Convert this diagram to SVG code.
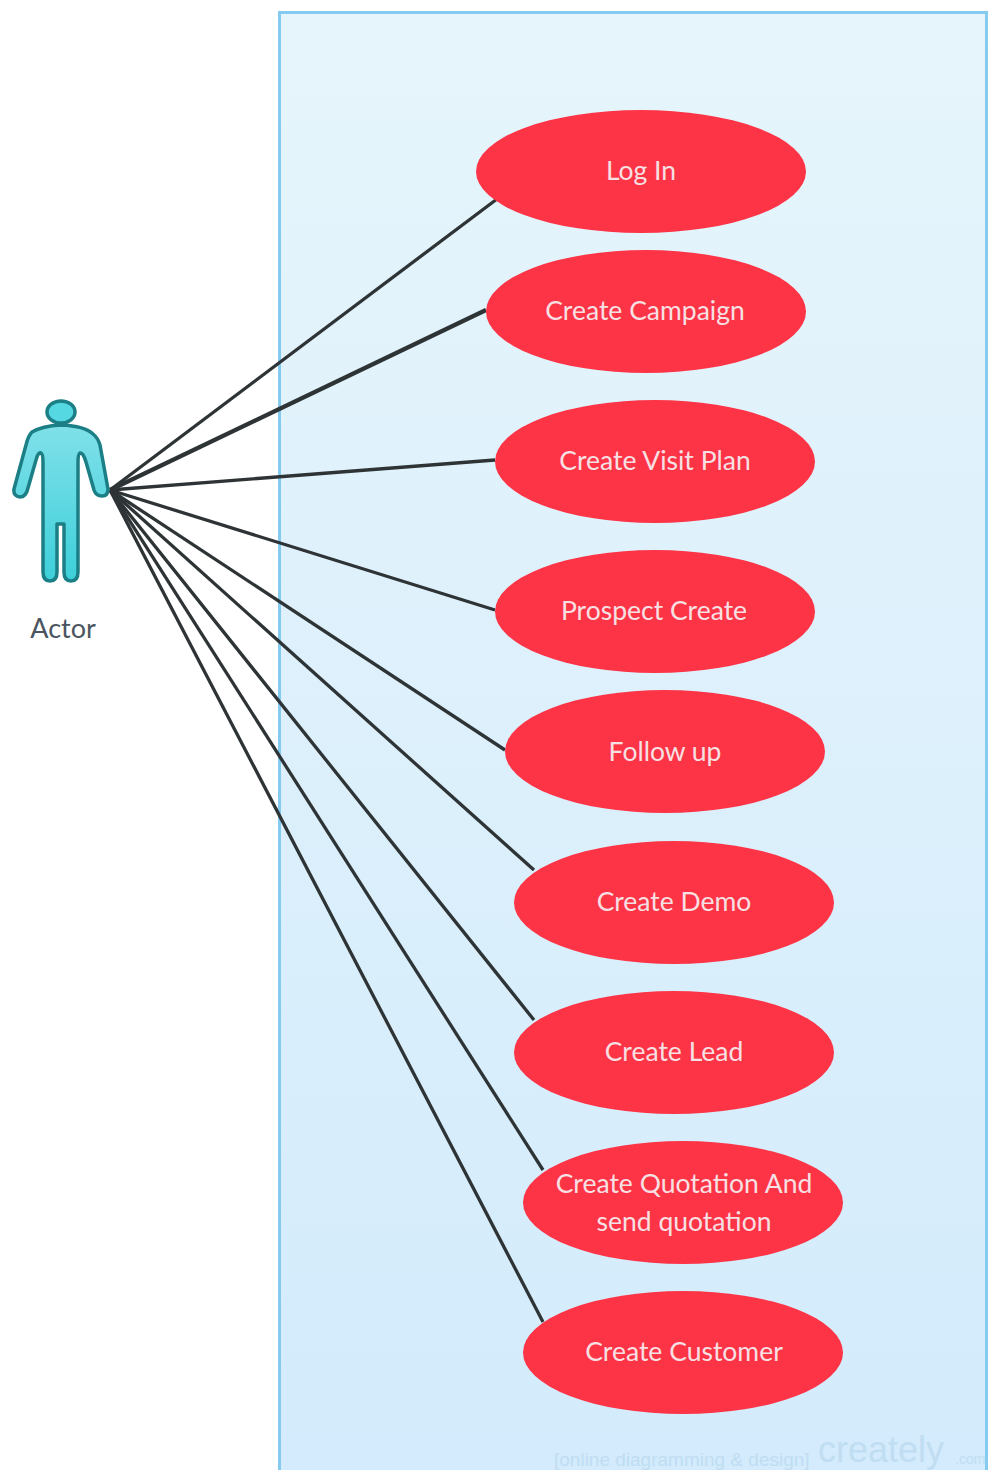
<svg xmlns="http://www.w3.org/2000/svg" width="990" height="1470" viewBox="0 0 990 1470">
<defs>
<linearGradient id="bg" x1="0" y1="0" x2="0" y2="1"><stop offset="0" stop-color="#e6f5fb"/><stop offset="1" stop-color="#d3ebfc"/></linearGradient>
<linearGradient id="act" x1="0" y1="0" x2="0" y2="1"><stop offset="0" stop-color="#80e0e9"/><stop offset="1" stop-color="#3dd0da"/></linearGradient>
</defs>
<style>
.uc{fill:#fd3346}
.t{font-family:Lato,"Liberation Sans",sans-serif;font-size:26.500px;fill:#f7e0e3;text-anchor:middle}
.c{stroke:#2e3436;stroke-width:3.300;fill:none}
.wm{font-family:"Liberation Sans",sans-serif;fill:#c0ddf2}
.a{stroke:#1c7f86;stroke-width:3.500;stroke-linejoin:round}
</style>
<rect width="990" height="1470" fill="#fff"/>
<g id="boundary"><path d="M279.500 1470V12.500H986.500V1470" fill="url(#bg)" stroke="#85cbf0" stroke-width="3"/></g>
<g id="connectors">
<path class="c" d="M110 490L497 199"/>
<path class="c" d="M110 490L486 310" style="stroke-width:4.200"/>
<path class="c" d="M110 490L495 460"/>
<path class="c" d="M110 490L495 610"/>
<path class="c" d="M110 490L505 750"/>
<path class="c" d="M110 490L534 870"/>
<path class="c" d="M110 490L534 1020"/>
<path class="c" d="M110 490L543 1170"/>
<path class="c" d="M110 490L543 1322"/>
</g>
<g id="actor">
<ellipse class="a" cx="61" cy="412" rx="14" ry="11" fill="#55d8e2"/>
<path class="a" d="M61 425Q85 426 93 434Q98 438 100 445L108 489Q108 496 102 496Q96 496 94 490L86 462Q83 452 80 453Q78 454 78 462V572Q78 581 71 581Q64 581 64 572V524H57V572Q57 581 50 581Q43 581 43 572V462Q43 454 41 453Q38 452 36 460L28 488Q26 497 20 497Q13 496 14 489L26 445Q28 436 32 432Q42 426 61 425Z" fill="url(#act)"/>
<text x="63" y="638" font-family="Lato,'Liberation Sans',sans-serif" font-size="27" fill="#4a5560" text-anchor="middle">Actor</text>
</g>
<g id="login"><ellipse class="uc" cx="641" cy="171.500" rx="165" ry="61.500"/><text class="t" x="641" y="180">Log In</text></g>
<g id="campaign"><ellipse class="uc" cx="646" cy="311.500" rx="160" ry="61.500"/><text class="t" x="645" y="320">Create Campaign</text></g>
<g id="visit"><ellipse class="uc" cx="655" cy="461.500" rx="160" ry="61.500"/><text class="t" x="655" y="470">Create Visit Plan</text></g>
<g id="prospect"><ellipse class="uc" cx="655" cy="611.500" rx="160" ry="61.500"/><text class="t" x="654" y="620">Prospect Create</text></g>
<g id="follow"><ellipse class="uc" cx="665" cy="751.500" rx="160" ry="61.500"/><text class="t" x="665" y="761">Follow up</text></g>
<g id="demo"><ellipse class="uc" cx="674" cy="902.500" rx="160" ry="61.500"/><text class="t" x="674" y="911">Create Demo</text></g>
<g id="lead"><ellipse class="uc" cx="674" cy="1052.500" rx="160" ry="61.500"/><text class="t" x="674" y="1061">Create Lead</text></g>
<g id="quotation"><ellipse class="uc" cx="683" cy="1202.500" rx="160" ry="61.500"/><text class="t" x="684" y="1193">Create Quotation And</text><text class="t" x="684" y="1231">send quotation</text></g>
<g id="customer"><ellipse class="uc" cx="683" cy="1352.500" rx="160" ry="61.500"/><text class="t" x="684" y="1361">Create Customer</text></g>
<g id="watermark"><text class="wm" x="554" y="1466" font-size="19">[online diagramming &amp; design]</text><text class="wm" x="818" y="1462" font-size="36">creately</text><text class="wm" x="955" y="1464" font-size="14">.com</text></g>
</svg>
